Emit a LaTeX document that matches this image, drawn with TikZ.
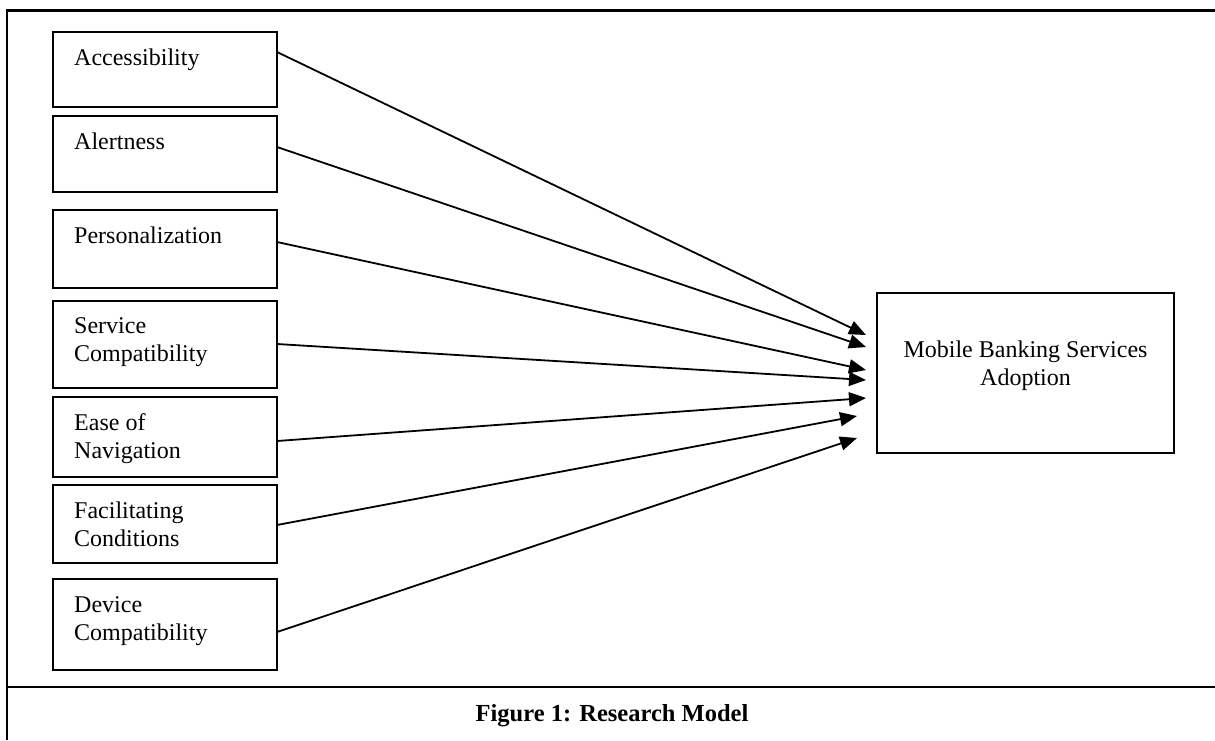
\documentclass[tikz,border=0pt]{standalone}
\usepackage{fontspec}
\setmainfont{Liberation Serif}
\usetikzlibrary{arrows.meta,calc}
\begin{document}
\begin{tikzpicture}[x=1pt,y=-1pt,
  box/.style={draw,line width=2pt,inner sep=0pt,outer sep=0pt,anchor=north west,minimum width=224pt},
  lbl/.style={anchor=north west,inner sep=0pt,align=left,font=\fontsize{24}{28}\selectfont},
  conn/.style={line width=1.8pt,-{Triangle[length=17pt,width=14pt]}},
  frame/.style={line width=2.6pt}]
\useasboundingbox (0,0) rectangle (1215,740);
% frame
\draw[frame] (7,740) -- (7,10.5) -- (1215,10.5);
\draw[frame] (7,687) -- (1215,687);
% boxes
\node[box,minimum height=75pt] (acc) at (53,32) {};
\node[box,minimum height=76pt] (ale) at (53,116) {};
\node[box,minimum height=78pt] (per) at (53,210) {};
\node[box,minimum height=87pt] (ser) at (53,301) {};
\node[box,minimum height=80pt] (eas) at (53,397) {};
\node[box,minimum height=78pt] (fac) at (53,485) {};
\node[box,minimum height=91pt] (dev) at (53,579) {};
\node[box,minimum width=297pt,minimum height=160pt] (mb) at (877,293) {};
% labels
\node[lbl] (tacc) at ($(acc.north west)+(21,13.4)$) {\strut Accessibility};
\node[lbl] (tale) at ($(ale.north west)+(21,13.4)$) {\strut Alertness};
\node[lbl] (tper) at ($(per.north west)+(21,13.4)$) {\strut Personalization};
\node[lbl] (tser) at ($(ser.north west)+(21,12.4)$) {\strut Service\\Compatibility};
\node[lbl] (teas) at ($(eas.north west)+(21,13.4)$) {\strut Ease of\\Navigation};
\node[lbl] (tfac) at ($(fac.north west)+(21,13.4)$) {\strut Facilitating\\Conditions};
\node[lbl] (tdev) at ($(dev.north west)+(21,13.4)$) {\strut Device\\Compatibility};
\node[lbl,anchor=north,align=center] (tmb) at ($(mb.north)+(0,44.4)$) {\strut Mobile Banking Services\\Adoption};
% caption
\node[anchor=base,inner sep=0pt,font=\fontsize{24.5}{28}\selectfont\bfseries] (cap) at (612,721) {Figure 1: Research Model};
% targets
\coordinate (t1) at (866,335);
\coordinate (t2) at (866,347);
\coordinate (t3) at (866,370);
\coordinate (t4) at (866,380);
\coordinate (t5) at (866,398);
\coordinate (t6) at (857,416);
\coordinate (t7) at (857,438);
% connectors
\draw[conn] ($(acc.north east)+(0,20)$) -- (t1);
\draw[conn] ($(ale.north east)+(0,31)$) -- (t2);
\draw[conn] ($(per.north east)+(0,32)$) -- (t3);
\draw[conn] ($(ser.north east)+(0,43)$) -- (t4);
\draw[conn] ($(eas.north east)+(0,44)$) -- (t5);
\draw[conn] ($(fac.north east)+(0,40)$) -- (t6);
\draw[conn] ($(dev.north east)+(0,53)$) -- (t7);
\end{tikzpicture}
\end{document}
